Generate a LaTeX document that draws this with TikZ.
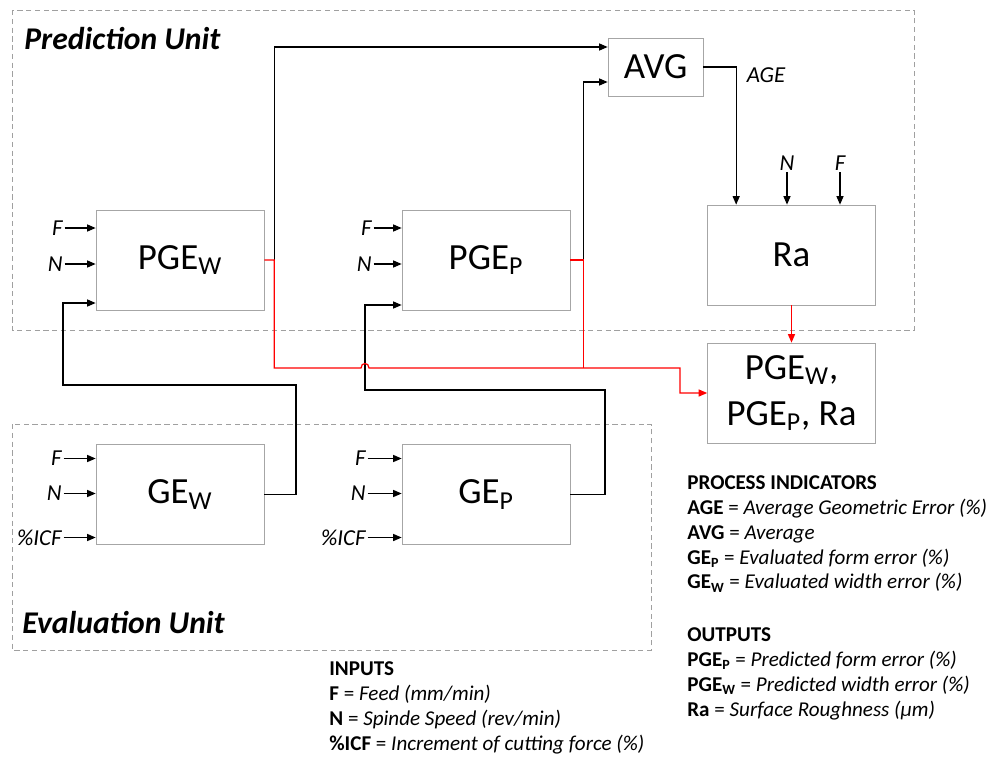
\documentclass[tikz,border=0pt]{standalone}
\usepackage{fontspec}
\setmainfont{Carlito}
\usepackage{xcolor}
\definecolor{mfgline}{HTML}{A6A6A6}
\definecolor{mfgdash}{HTML}{A0A0A0}
\definecolor{mfgred}{HTML}{FF0000}
\usetikzlibrary{arrows.meta,positioning,calc}
\tikzset{
  mfgbox/.style={draw=mfgline,fill=white,inner sep=2pt,align=center,font=\fontsize{21}{26}\selectfont,minimum width=3.36cm,minimum height=2cm},
  mfgflow/.style={-{Triangle[length=1.7mm,width=1.4mm]},line width=0.7pt},
  mfgwire/.style={line width=0.7pt},
  mfgredflow/.style={mfgflow,color=mfgred},
  mfgredwire/.style={mfgwire,color=mfgred},
  mfgin/.style={font=\fontsize{13}{15}\selectfont\itshape,inner sep=1pt},
  mfgunit/.style={draw=mfgdash,densely dashed,line width=0.4pt},
  mfgtitle/.style={font=\fontsize{18}{20}\selectfont\bfseries\itshape,inner sep=0pt},
  mfglegend/.style={font=\fontsize{12}{14.2}\selectfont,align=left,inner sep=0pt},
}

\begin{document}
\begin{tikzpicture}[x=0.02cm,y=-0.02cm]
\useasboundingbox (0,0) rectangle (993,758);

% units
\draw[mfgunit] (12,10) rectangle (914,330);
\draw[mfgunit] (12,424) rectangle (651,650);
\node[mfgtitle,anchor=west] (predtitle) at (24,39) {Prediction Unit};
\node[mfgtitle,anchor=west] (evaltitle) at (22,622) {Evaluation Unit};

% blocks
\node[mfgbox] (pgew) at (180,260) {PGE\textsubscript{W}};
\node[mfgbox] (pgep) at (486,260) {PGE\textsubscript{P}};
\node[mfgbox,minimum width=1.9cm,minimum height=1.16cm] (avg) at (655.5,67) {AVG};
\node[mfgbox] (ra) at (791.5,255) {Ra};
\node[mfgbox] (out) at (791.5,393) {PGE\textsubscript{W},\\PGE\textsubscript{P}, Ra};
\node[mfgbox] (gew) at (180,494.5) {GE\textsubscript{W}};
\node[mfgbox] (gep) at (486,494.5) {GE\textsubscript{P}};

% inputs
\foreach \lab/\dy [count=\i] in {F/-32,N/4}{
  \node[mfgin,anchor=east] (pgew-in\i) at ($(pgew.west)+(-31,\dy)$) {\lab};
  \draw[mfgflow] (pgew-in\i.east) -- (pgew-in\i.east -| pgew.west);
  \node[mfgin,anchor=east] (pgep-in\i) at ($(pgep.west)+(-28,\dy)$) {\lab};
  \draw[mfgflow] (pgep-in\i.east) -- (pgep-in\i.east -| pgep.west);
}
\foreach \lab/\dy [count=\i] in {F/-36,N/-1,\%ICF/43}{
  \node[mfgin,anchor=east] (gew-in\i) at ($(gew.west)+(-32,\dy)$) {\lab};
  \draw[mfgflow] (gew-in\i.east) -- (gew-in\i.east -| gew.west);
  \node[mfgin,anchor=east] (gep-in\i) at ($(gep.west)+(-34,\dy)$) {\lab};
  \draw[mfgflow] (gep-in\i.east) -- (gep-in\i.east -| gep.west);
}
\node[mfgin] (ra-n) at (787,163) {N};
\node[mfgin] (ra-f) at (840,163) {F};
\draw[mfgflow] (ra-n.south) -- (ra-n.south |- ra.north);
\draw[mfgflow] (ra-f.south) -- (ra-f.south |- ra.north);

% junctions
\coordinate (avg-in1) at ($(avg.west)+(0,-20)$);
\coordinate (avg-in2) at ($(avg.west)+(0,15)$);
\coordinate (ra-in) at ($(ra.north west)+(29,0)$);
\coordinate (pgew-j) at ($(pgew.east)+(10,0)$);
\coordinate (pgep-j) at ($(pgep.east)+(13,0)$);
\coordinate (busy) at (0,368);
\coordinate (hop-l) at (361,368);
\coordinate (hop-r) at (369,368);
\coordinate (bus-e) at (680,368);
\coordinate (pgew-in3) at ($(pgew.west)+(0,43)$);
\coordinate (pgep-in3) at ($(pgep.west)+(0,45)$);

% predictions to AVG and Ra
\draw[mfgflow] (pgew-j) |- (avg-in1);
\draw[mfgflow] (pgep-j) |- (avg-in2);
\draw[mfgflow] (avg.east) -| (ra-in);
\node[mfgin] (age) at (766,75) {AGE};

% evaluation feedback
\draw[mfgflow] (gew.east) -| (296,385) -| (63,303) -- (pgew-in3);
\draw[mfgflow] (gep.east) -| (605,390) -| (365,305) -- (pgep-in3);

% outputs
\draw[mfgredwire] (pgep.east) -- (pgep-j) -- (pgep-j |- busy);
\draw[mfgredflow] (pgew.east) -- (pgew-j) |- (hop-l) .. controls ($(hop-l)+(0,-6)$) and ($(hop-r)+(0,-6)$) .. (hop-r) -- (bus-e) |- (out.west);
\draw[mfgredflow] (ra.south) -- (out.north);

% legend
\node[mfglegend,anchor=north west] (inputs) at (329,661) {\textbf{INPUTS}\\
\textbf{F} = \textit{Feed (mm/min)}\\
\textbf{N} = \textit{Spinde Speed (rev/min)}\\
\textbf{\%ICF} = \textit{Increment of cutting force (\%)}};
\node[mfglegend,anchor=north west] (indicators) at (687,475) {\textbf{PROCESS INDICATORS}\\
\textbf{AGE} = \textit{Average Geometric Error (\%)}\\
\textbf{AVG} = \textit{Average}\\
\textbf{GE\textsubscript{P}} = \textit{Evaluated form error (\%)}\\
\textbf{GE\textsubscript{W}} = \textit{Evaluated width error (\%)}};
\node[mfglegend,anchor=north west] (outputs) at (687,627) {\textbf{OUTPUTS}\\
\textbf{PGE\textsubscript{P}} = \textit{Predicted form error (\%)}\\
\textbf{PGE\textsubscript{W}} = \textit{Predicted width error (\%)}\\
\textbf{Ra} = \textit{Surface Roughness (µm)}};
\end{tikzpicture}
\end{document}
